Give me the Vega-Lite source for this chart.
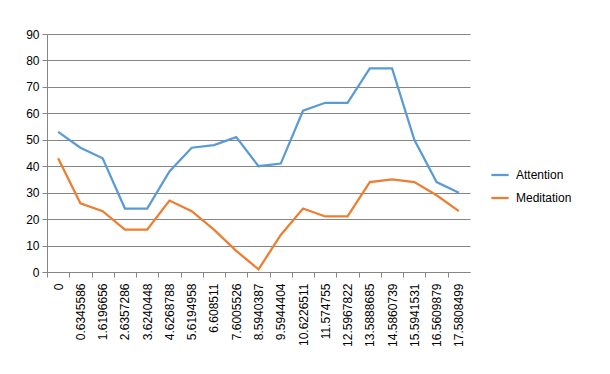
{
  "$schema": "https://vega.github.io/schema/vega-lite/v6.json",
  "width": 423,
  "height": 238,
  "autosize": {"type": "none"},
  "padding": {"left": 47, "top": 34, "right": 140, "bottom": 102},
  "background": "white",
  "data": {
    "values": [
      {"i": 0, "t": "0", "Attention": 53, "Meditation": 43},
      {"i": 1, "t": "0.6345586", "Attention": 47, "Meditation": 26},
      {"i": 2, "t": "1.6196656", "Attention": 43, "Meditation": 23},
      {"i": 3, "t": "2.6357286", "Attention": 24, "Meditation": 16},
      {"i": 4, "t": "3.6240448", "Attention": 24, "Meditation": 16},
      {"i": 5, "t": "4.6268788", "Attention": 38, "Meditation": 27},
      {"i": 6, "t": "5.6194958", "Attention": 47, "Meditation": 23},
      {"i": 7, "t": "6.608511", "Attention": 48, "Meditation": 16},
      {"i": 8, "t": "7.6005526", "Attention": 51, "Meditation": 8},
      {"i": 9, "t": "8.5940387", "Attention": 40, "Meditation": 1},
      {"i": 10, "t": "9.5944404", "Attention": 41, "Meditation": 14},
      {"i": 11, "t": "10.6226511", "Attention": 61, "Meditation": 24},
      {"i": 12, "t": "11.574755", "Attention": 64, "Meditation": 21},
      {"i": 13, "t": "12.5967822", "Attention": 64, "Meditation": 21},
      {"i": 14, "t": "13.5888685", "Attention": 77, "Meditation": 34},
      {"i": 15, "t": "14.5860739", "Attention": 77, "Meditation": 35},
      {"i": 16, "t": "15.5941531", "Attention": 50, "Meditation": 34},
      {"i": 17, "t": "16.5609879", "Attention": 34, "Meditation": 29},
      {"i": 18, "t": "17.5808499", "Attention": 30, "Meditation": 23}
    ]
  },
  "transform": [{"fold": ["Attention", "Meditation"], "as": ["series", "value"]}],
  "mark": {"type": "line", "strokeWidth": 2.25},
  "encoding": {
    "x": {
      "field": "t",
      "type": "ordinal",
      "sort": {"field": "i"},
      "scale": {"type": "band", "paddingInner": 0, "paddingOuter": 0},
      "axis": {
        "title": null,
        "labelAngle": 270,
        "labelFont": "Liberation Sans",
        "labelFontSize": 12,
        "labelColor": "#000000",
        "labelPadding": 6,
        "tickOffset": -11.13,
        "labelOffset": 11.13,
        "domainColor": "#868686",
        "tickColor": "#868686",
        "tickSize": 5,
        "grid": false
      }
    },
    "y": {
      "field": "value",
      "type": "quantitative",
      "scale": {"domain": [0, 90], "nice": false},
      "axis": {
        "title": null,
        "values": [0, 10, 20, 30, 40, 50, 60, 70, 80, 90],
        "labelFont": "Liberation Sans",
        "labelFontSize": 12,
        "labelColor": "#000000",
        "labelPadding": 3,
        "domainColor": "#868686",
        "tickColor": "#868686",
        "tickSize": 5,
        "gridColor": "#868686",
        "gridWidth": 1
      }
    },
    "color": {
      "field": "series",
      "type": "nominal",
      "scale": {"domain": ["Attention", "Meditation"], "range": ["#5B9BD5", "#ED7D31"]},
      "legend": {
        "title": null,
        "orient": "none",
        "legendX": 443,
        "legendY": 131,
        "symbolType": "stroke",
        "symbolSize": 300,
        "symbolStrokeWidth": 2.25,
        "labelFont": "Liberation Sans",
        "labelFontSize": 12,
        "labelColor": "#000000",
        "rowPadding": 7,
        "labelOffset": 6
      }
    },
    "order": {"field": "i", "type": "quantitative"}
  },
  "config": {"view": {"stroke": null}}
}
